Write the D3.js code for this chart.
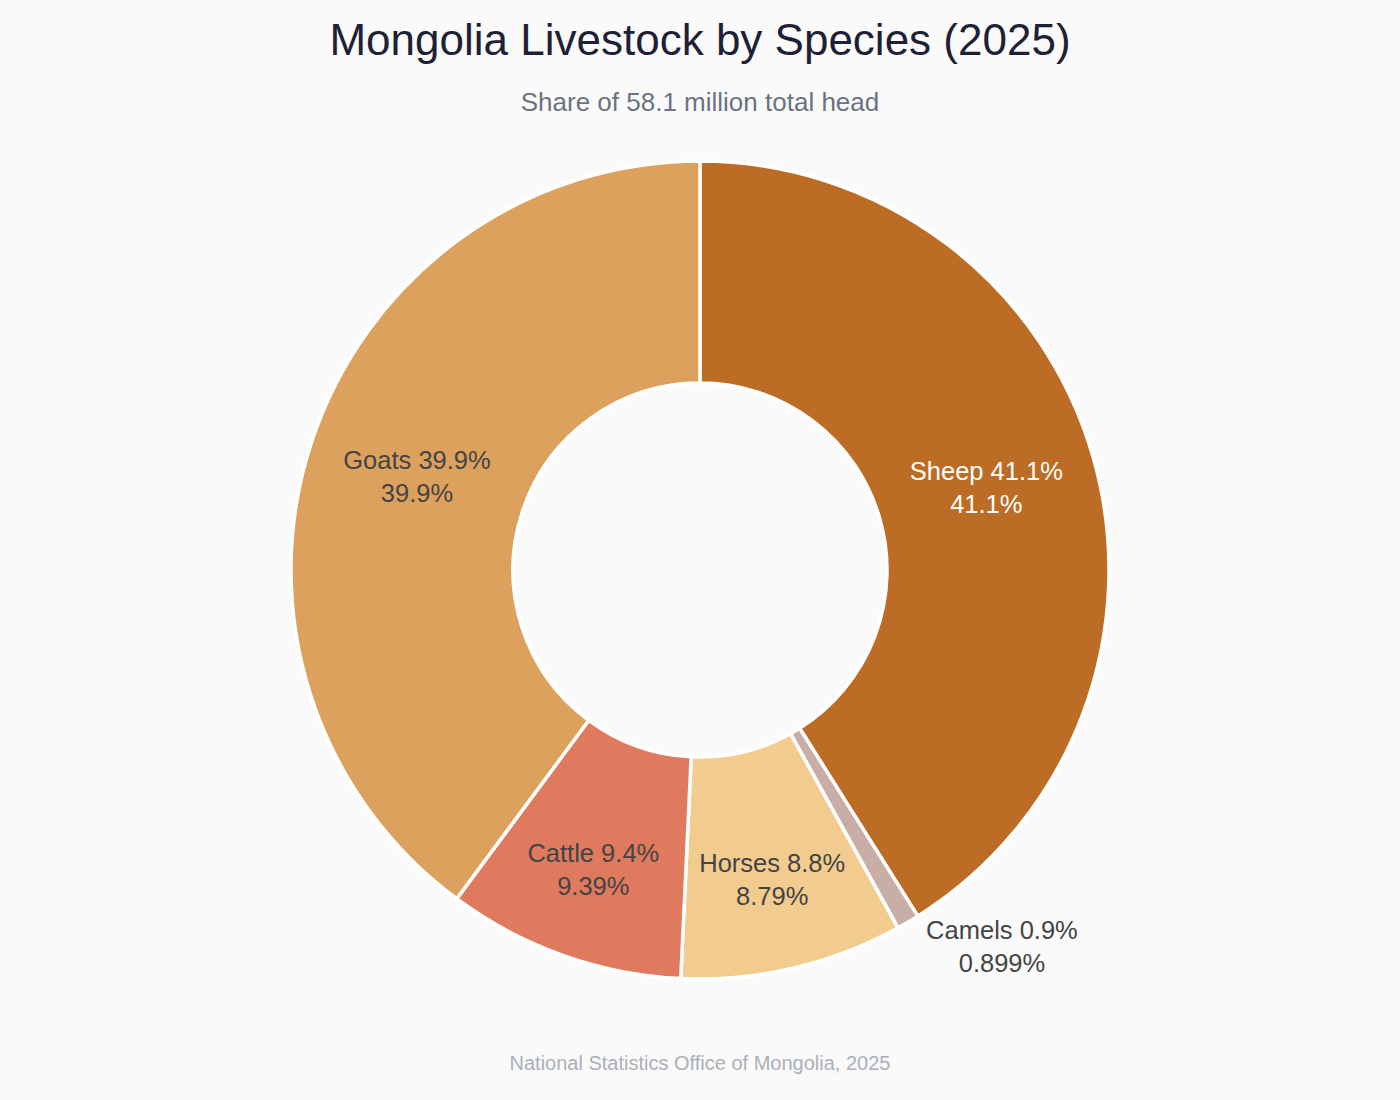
<!DOCTYPE html>
<html>
<head>
<meta charset="utf-8">
<script src="https://cdn.jsdelivr.net/npm/d3@7"></script>
<style>
  body { margin: 0; background: #fafafa; }
  #wrapper svg { display: block; font-family: "Liberation Sans", Arial, sans-serif; }
</style>
</head>
<body>
<div id="wrapper"></div>
<script>
// data (millions of head, clockwise from 12 o'clock)
const species = ["Sheep", "Camels", "Horses", "Cattle", "Goats"]
const labels = ["Sheep 41.1%", "Camels 0.9%", "Horses 8.8%", "Cattle 9.4%", "Goats 39.9%"]
const heads = [23.856, 0.5224, 5.107, 5.456, 23.159]
const colors = ["#bc6c25", "#c9ada7", "#f2cc8f", "#e07a5f", "#dda15e"]
const textColors = ["#ffffff", "#444444", "#444444", "#444444", "#444444"]
const insideText = [true, false, true, true, true]

async function drawChart() {
  const dataset = species.map((s, i) => ({
    species: s,
    label: labels[i],
    value: heads[i],
    color: colors[i],
    textColor: textColors[i],
    inside: insideText[i]
  }))

  const valueAccessor = d => d.value

  let dimensions = {
    width: 1400,
    height: 1100,
    cx: 700,
    cy: 570,
    outerRadius: 409,
    innerRadius: 187
  }

  const wrapper = d3.select("#wrapper")
    .append("svg")
      .attr("width", dimensions.width)
      .attr("height", dimensions.height)

  wrapper.append("rect")
    .attr("width", dimensions.width)
    .attr("height", dimensions.height)
    .attr("fill", "#fafafa")

  const bounds = wrapper.append("g")
    .attr("transform", `translate(${dimensions.cx}, ${dimensions.cy})`)

  // pie layout
  const pie = d3.pie()
    .value(valueAccessor)
    .sort(null)

  const arcs = pie(dataset)
  const total = d3.sum(dataset, valueAccessor)
  const formatPct = d3.format(".3r")

  const arcGenerator = d3.arc()
    .innerRadius(dimensions.innerRadius)
    .outerRadius(dimensions.outerRadius)

  bounds.selectAll("path")
    .data(arcs)
    .enter().append("path")
      .attr("d", arcGenerator)
      .attr("fill", d => d.data.color)
      .attr("stroke", "#ffffff")
      .attr("stroke-width", 3.5)
      .attr("stroke-linejoin", "round")

  // labels
  const fontSize = 25.5
  const lineHeight = 33
  const midRadius = (dimensions.innerRadius + dimensions.outerRadius) / 2

  const labelGroups = bounds.selectAll(".slice-label")
    .data(arcs)
    .enter().append("text")
      .attr("class", "slice-label")
      .attr("text-anchor", "middle")
      .style("font-size", `${fontSize}px`)
      .attr("fill", d => d.data.textColor)

  labelGroups.each(function(d) {
    const el = d3.select(this)
    const mid = (d.startAngle + d.endAngle) / 2
    const span = d.endAngle - d.startAngle
    const pct = formatPct(d.data.value / total * 100) + "%"
    el.append("tspan").attr("x", 0).attr("dy", 0).text(d.data.label)
    el.append("tspan").attr("x", 0).attr("dy", lineHeight).text(pct)
    const box = this.getBBox()
    let cx, cy
    if(d.data.inside) {
      // narrow slices push their text outward where the wedge is wider
      const r = span < Math.PI / 3 ? midRadius + 20 : midRadius
      cx = r * Math.sin(mid)
      cy = -r * Math.cos(mid)
    } else {
      const r = dimensions.outerRadius + 16
      const px = r * Math.sin(mid)
      const py = -r * Math.cos(mid)
      cx = px + 10 + box.width / 2
      cy = py + 11
    }
    // shift so the two-line block is centered on (cx, cy)
    const blockMid = box.y + box.height / 2
    el.attr("transform", `translate(${cx}, ${cy - blockMid})`)
  })

  // title, subtitle, source
  wrapper.append("text")
    .attr("x", dimensions.width / 2)
    .attr("y", 55)
    .attr("text-anchor", "middle")
    .style("font-size", "44px")
    .attr("fill", "#1f1f36")
    .text("Mongolia Livestock by Species (2025)")

  wrapper.append("text")
    .attr("x", dimensions.width / 2)
    .attr("y", 111)
    .attr("text-anchor", "middle")
    .style("font-size", "26px")
    .attr("fill", "#6b7280")
    .text("Share of 58.1 million total head")

  wrapper.append("text")
    .attr("x", dimensions.width / 2)
    .attr("y", 1070)
    .attr("text-anchor", "middle")
    .style("font-size", "20px")
    .attr("fill", "#aab0b8")
    .text("National Statistics Office of Mongolia, 2025")
}

drawChart()
</script>
</body>
</html>
